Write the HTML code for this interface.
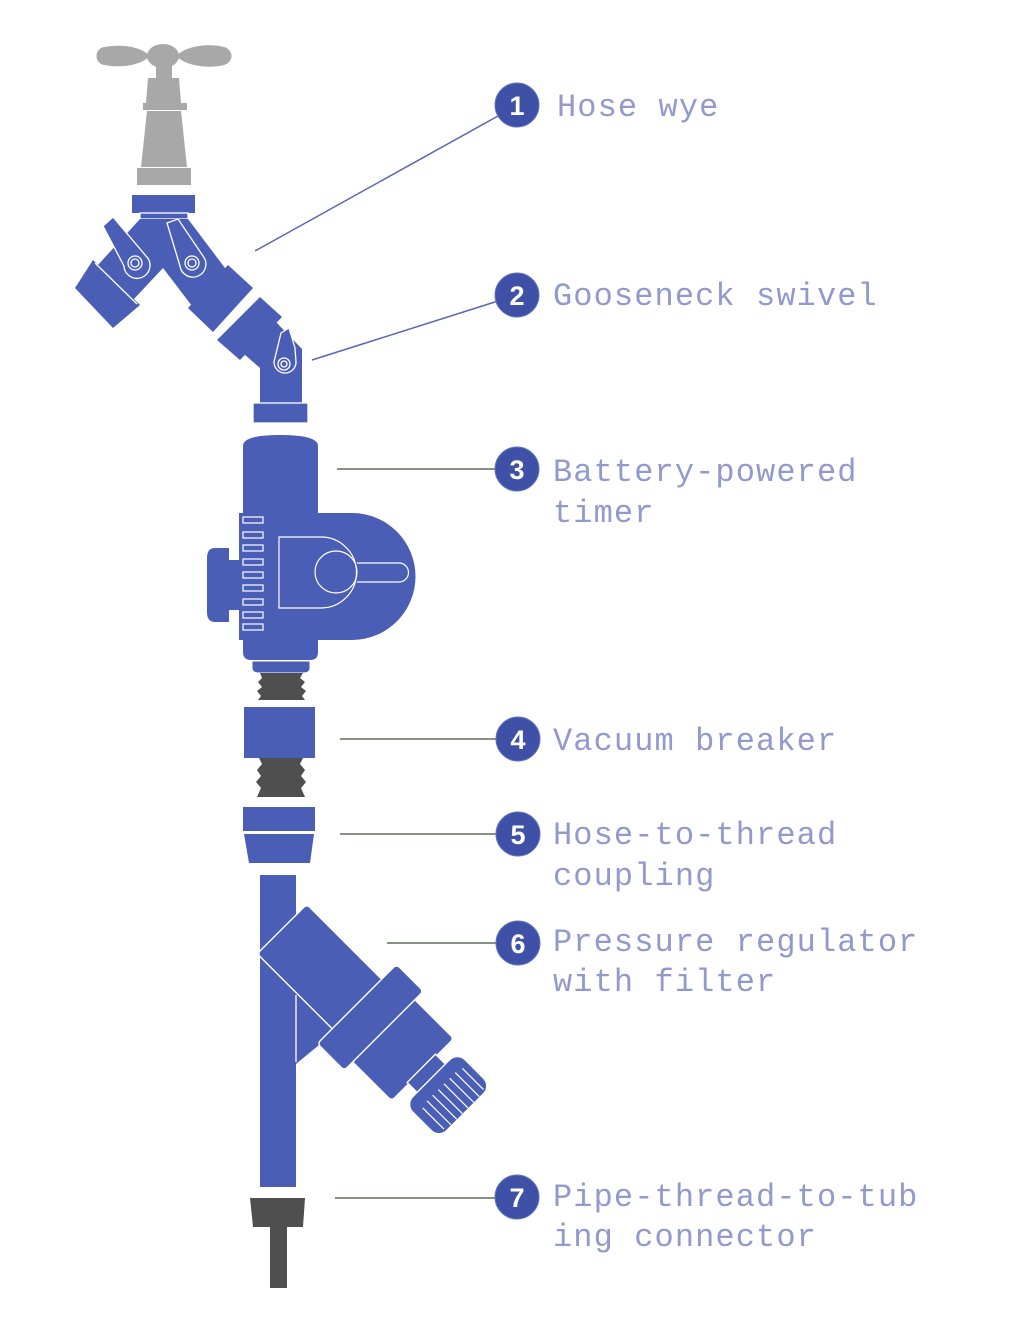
<!DOCTYPE html>
<html>
<head>
<meta charset="utf-8">
<style>
html,body{margin:0;padding:0;background:#fff;}
svg{display:block;}
.lbl{font-family:"Liberation Mono",monospace;font-size:32px;letter-spacing:1.1px;fill:#9299cc;}
.num{font-family:"Liberation Sans",sans-serif;font-weight:bold;font-size:27px;fill:#fff;}
</style>
</head>
<body>
<svg width="1020" height="1320" viewBox="0 0 1020 1320" xmlns="http://www.w3.org/2000/svg">
<rect width="1020" height="1320" fill="#fff"/>

<!-- Faucet (gray) -->
<g fill="#a8a8a8">
  <path d="M150,56 C140,46 120,44 104,47 C94,49 94,63 104,65 C120,68 140,66 150,56 Z"/>
  <path d="M176,56 C186,46 208,43 224,47 C234,50 234,62 224,65 C208,69 186,66 176,56 Z"/>
  <ellipse cx="163" cy="56" rx="16" ry="12"/>
  <rect x="156" y="66" width="16" height="12"/>
  <path d="M148,78 H179 L181,103 H146 Z"/>
  <rect x="143" y="103" width="44" height="7"/>
  <path d="M147,111 H181 L187,167 H141 Z"/>
  <rect x="137" y="168" width="54" height="17"/>
</g>

<!-- Hose wye (blue) -->
<g fill="#4b5eb5" stroke="#fff" stroke-width="1.3">
  <rect x="132" y="195" width="63" height="18" stroke="none"/>
  <rect x="140" y="213" width="48" height="6"/>
  <path d="M140,219 H188 L228,272 L192,306 L163,268 L133,300 L97,266 Z" stroke="none"/>
  <path d="M93,260 L140,305 L113,328 L75,288 Z" stroke="none"/>
  <path d="M95,263 L137,304" />
  <path d="M188,308 L228,265 L253,288 L213,332 Z" stroke="none"/>
  <path d="M103,226 L113,217 L146,256 A13,13 0 1 1 124,266 Z"/>
  <circle cx="135" cy="263" r="7"/>
  <circle cx="135" cy="263" r="4"/>
  <path d="M167,223 L178,219 L203,256 A13,13 0 1 1 180,266 Z"/>
  <circle cx="192" cy="263" r="7"/>
  <circle cx="192" cy="263" r="4"/>
</g>

<!-- Gooseneck swivel -->
<g fill="#4b5eb5" stroke="#fff" stroke-width="1.3">
  <path d="M217,340 L260,297 L282,317 L240,360 Z" stroke="none"/>
  <path d="M244,354 L276,322 L302,349 V403 H260 V368 Z" stroke="none"/>
  <path d="M281,333 L289,328 L295,348 L296,362 A11,11 0 1 1 274,362 Z"/>
  <circle cx="284" cy="364" r="6"/>
  <circle cx="284" cy="364" r="3"/>
  <rect x="253" y="403" width="55" height="20"/>
</g>

<!-- Timer -->
<g fill="#4b5eb5">
  <path d="M243,517 V446 Q243,435 280,435 Q318,435 318,446 V517 Z"/>
  <rect x="228" y="560" width="12" height="50"/>
  <path d="M215,548 H229 V622 H215 Q207,622 207,612 V558 Q207,548 215,548 Z"/>
  <path d="M239,513 H352 A63.5,63.5 0 0 1 352,640 H239 Z"/>
  <path d="M243,639 H318 V652 Q318,660 310,660 H251 Q243,660 243,652 Z"/>
  <path d="M252,661 H310 V668 Q310,673 303,673 H259 Q252,673 252,668 Z" stroke="#fff" stroke-width="1"/>
</g>
<g fill="none" stroke="#fff" stroke-width="1.2">
  <rect x="243" y="517" width="20" height="6"/>
  <rect x="243" y="532" width="20" height="6"/>
  <rect x="243" y="545" width="20" height="6"/>
  <rect x="243" y="559" width="20" height="6"/>
  <rect x="243" y="572" width="20" height="6"/>
  <rect x="243" y="585" width="20" height="6"/>
  <rect x="243" y="599" width="20" height="6"/>
  <rect x="243" y="612" width="20" height="6"/>
  <rect x="243" y="624" width="20" height="6"/>
  <path d="M279,537 H321 A35.5,35.5 0 0 1 321,608 H279 Z"/>
  <circle cx="336" cy="572" r="21"/>
  <path d="M357,563 H399 A9.5,9.5 0 0 1 399,582 H357"/>
</g>

<!-- thread 1 -->
<path fill="#4f4f4f" d="M260,673 H303 L300,678 L305,682 L301,687 L306,691 L302,696 L305,700 H258 L261,696 L257,691 L262,687 L258,682 L262,678 Z"/>
<!-- vacuum breaker -->
<rect x="244" y="707" width="71" height="51" fill="#4b5eb5"/>
<!-- thread 2 -->
<path fill="#4f4f4f" d="M259,758 H303 L300,764 L305,770 L301,776 L306,782 L301,788 L305,797 H257 L261,788 L256,782 L261,776 L257,770 L262,764 Z"/>
<!-- coupling -->
<rect x="243" y="807" width="72" height="24" fill="#4b5eb5"/>
<path d="M244,834 H314 L310,863 H249 Z" fill="#4b5eb5"/>

<!-- Pipe -->
<rect x="260" y="875" width="36" height="312" fill="#4b5eb5"/>
<path d="M296,992 L336,1031 L296,1064 Z" fill="#4b5eb5"/>
<line x1="296" y1="995" x2="296" y2="1062" stroke="#fff" stroke-width="1.3"/>

<!-- Regulator -->
<g transform="translate(282,929) rotate(45)" fill="#4b5eb5" stroke="#fff" stroke-width="1.4">
  <rect x="0" y="-35" width="112" height="70" rx="4"/>
  <rect x="140" y="-44" width="59" height="88" rx="4"/>
  <rect x="106" y="-56" width="38" height="112" rx="4"/>
  <rect x="197" y="-20" width="16" height="40"/>
  <rect x="211" y="-37" width="48" height="74" rx="11"/>
  <g fill="none" stroke-width="1.2">
    <line x1="226" y1="-29" x2="256" y2="-29"/>
    <line x1="224" y1="-21" x2="258" y2="-21"/>
    <line x1="224" y1="-13" x2="258" y2="-13"/>
    <line x1="224" y1="-5" x2="258" y2="-5"/>
    <line x1="224" y1="3" x2="258" y2="3"/>
    <line x1="224" y1="11" x2="258" y2="11"/>
    <line x1="224" y1="19" x2="258" y2="19"/>
    <line x1="226" y1="27" x2="256" y2="27"/>
  </g>
</g>

<!-- bottom connector -->
<path d="M250,1198 H305 L303,1227 H253 Z" fill="#4f4f4f"/>
<rect x="270" y="1227" width="17" height="61" fill="#4f4f4f"/>

<!-- Connector lines -->
<line x1="255" y1="251" x2="498" y2="116" stroke="#5566b8" stroke-width="1.5"/>
<line x1="312" y1="360" x2="498" y2="301" stroke="#5566b8" stroke-width="1.5"/>
<g stroke="#5f6e5f" stroke-width="1.5">
  <line x1="337" y1="469" x2="496" y2="469"/>
  <line x1="340" y1="739" x2="497" y2="739"/>
  <line x1="340" y1="834" x2="497" y2="834"/>
  <line x1="387" y1="943" x2="497" y2="943"/>
  <line x1="335" y1="1198" x2="496" y2="1198"/>
</g>

<!-- Number circles -->
<g fill="#3e51a6" stroke="#6373bd" stroke-width="1">
  <circle cx="517" cy="105" r="22"/>
  <circle cx="517" cy="295" r="22"/>
  <circle cx="517" cy="469" r="22"/>
  <circle cx="518" cy="739" r="22"/>
  <circle cx="518" cy="834" r="22"/>
  <circle cx="518" cy="943" r="22"/>
  <circle cx="517" cy="1197" r="22"/>
</g>
<g class="num" text-anchor="middle">
  <text x="517" y="115">1</text>
  <text x="517" y="305">2</text>
  <text x="517" y="479">3</text>
  <text x="518" y="749">4</text>
  <text x="518" y="844">5</text>
  <text x="518" y="953">6</text>
  <text x="517" y="1207">7</text>
</g>

<!-- Labels -->
<g class="lbl">
  <text x="557" y="116">Hose wye</text>
  <text x="553" y="305">Gooseneck swivel</text>
  <text x="553" y="481">Battery-powered</text>
  <text x="553" y="522">timer</text>
  <text x="553" y="750">Vacuum breaker</text>
  <text x="553" y="844">Hose-to-thread</text>
  <text x="553" y="885">coupling</text>
  <text x="553" y="951">Pressure regulator</text>
  <text x="553" y="991">with filter</text>
  <text x="553" y="1206">Pipe-thread-to-tub</text>
  <text x="553" y="1246">ing connector</text>
</g>
</svg>
</body>
</html>
